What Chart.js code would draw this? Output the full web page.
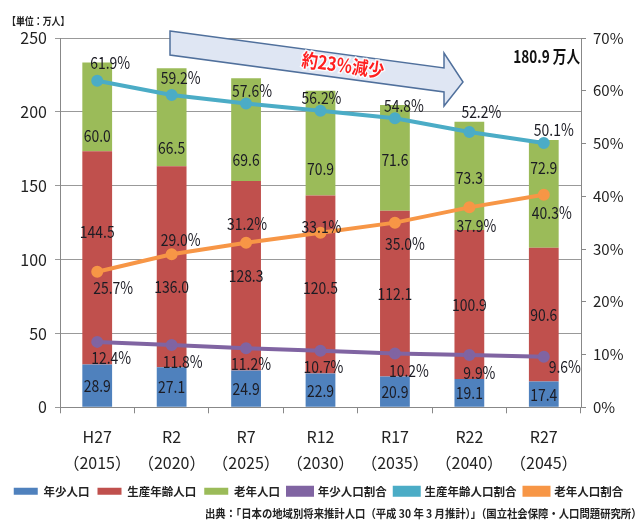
<!DOCTYPE html>
<html><head><meta charset="utf-8">
<script src="https://cdn.jsdelivr.net/npm/chart.js@4/dist/chart.umd.min.js"></script>
<style>html,body{margin:0;padding:0;background:#fff}#wrap{width:637px;height:522px;position:relative}</style>
</head><body><div id="wrap"><canvas id="c" width="637" height="522"></canvas></div>
<script>
// ---- data ----
const categories = [['H27','（2015）'],['R2','（2020）'],['R7','（2025）'],['R12','（2030）'],['R17','（2035）'],['R22','（2040）'],['R27','（2045）']];
const youngPop   = [28.9, 27.1, 24.9, 22.9, 20.9, 19.1, 17.4];
const workingPop = [144.5, 136.0, 128.3, 120.5, 112.1, 100.9, 90.6];
const elderlyPop = [60.0, 66.5, 69.6, 70.9, 71.6, 73.3, 72.9];
const youngPct   = [12.4, 11.8, 11.2, 10.7, 10.2, 9.9, 9.6];
const workingPct = [61.9, 59.2, 57.6, 56.2, 54.8, 52.2, 50.1];
const elderlyPct = [25.7, 29.0, 31.2, 33.1, 35.0, 37.9, 40.3];
const leftTicks  = [0, 50, 100, 150, 200, 250];
const rightTicks = [0, 10, 20, 30, 40, 50, 60, 70];
const seriesNames = ['年少人口','生産年齢人口','老年人口','年少人口割合','生産年齢人口割合','老年人口割合'];
const unitText = '【単位：万人】';
const totalText = '180.9 万人';
const arrowText = '約23%減少';
const sourceText = '出典：「日本の地域別将来推計人口（平成 30 年 3 月推計）」（国立社会保障・人口問題研究所）';

// label placement nudges (pixels), not data
const barLabelDy = [
  [0,0,0,0,0,0,0],
  [-26,20,0,3,0,0,0],
  [29,30,30,25,2,2,-26]
];
const lineLabelOff = [
  [[14,16],[11,17],[5,15],[3,16],[14,17],[10,17],[21,10]],
  [[13,-18],[9,-17],[6,-13],[1,-13],[9,-13],[12,-20],[10,-13]],
  [[16,16],[9,-15],[1,-19],[1,-6],[10,21],[7,18],[8,18]]
];

const FONT = "'Noto Sans CJK JP','Noto Sans',sans-serif";
Chart.defaults.font.family = FONT;
Chart.defaults.color = '#222';

const colors = ['#4F81BD','#C0504D','#9BBB59','#8064A2','#4BACC6','#F79646'];

function drawText(ctx, txt, x, y, font, color, align, sx, sy) {
  ctx.save();
  ctx.translate(x, y);
  ctx.scale(sx || 1, sy || 1);
  ctx.font = font; ctx.fillStyle = color; ctx.textAlign = align || 'center'; ctx.textBaseline = 'middle';
  ctx.fillText(txt, 0, 0);
  ctx.restore();
}

const labelPlugin = {
  id: 'valueLabels',
  afterDatasetsDraw(chart) {
    const ctx = chart.ctx;
    const f = "17px " + FONT;
    for (let d = 0; d < 3; d++) {
      const meta = chart.getDatasetMeta(d);
      const vals = chart.data.datasets[d].data;
      meta.data.forEach((el, i) => {
        const cy = (el.y + el.base) / 2 + barLabelDy[d][i];
        drawText(ctx, vals[i].toFixed(1), el.x, cy, f, '#1c1c24', 'center', 0.82, 1);
      });
    }
    for (let d = 3; d < 6; d++) {
      const meta = chart.getDatasetMeta(d);
      const vals = chart.data.datasets[d].data;
      meta.data.forEach((el, i) => {
        const o = lineLabelOff[d - 3][i];
        drawText(ctx, vals[i].toFixed(1) + '%', el.x + o[0], el.y + o[1], f, '#1c1c24', 'center', 0.82, 1);
      });
    }
  },
  afterDraw(chart) {
    const ctx = chart.ctx;
    // decorative block arrow
    ctx.save();
    ctx.beginPath();
    ctx.moveTo(170, 31); ctx.lineTo(444, 68); ctx.lineTo(444, 53); ctx.lineTo(463, 82);
    ctx.lineTo(444, 106); ctx.lineTo(444, 92); ctx.lineTo(170, 55); ctx.closePath();
    ctx.fillStyle = '#dfe6f3'; ctx.fill();
    ctx.lineWidth = 1.5; ctx.strokeStyle = '#50709c'; ctx.stroke();
    ctx.translate(343, 65); ctx.rotate(Math.atan2(37, 274)); ctx.scale(0.85, 1);
    ctx.font = "bold 19px " + FONT; ctx.textAlign = 'center'; ctx.textBaseline = 'middle';
    ctx.lineWidth = 3; ctx.strokeStyle = 'rgba(255,255,255,0.85)'; ctx.strokeText(arrowText, 0, 0);
    ctx.fillStyle = '#ff1f1f'; ctx.fillText(arrowText, 0, 0);
    ctx.restore();
    drawText(ctx, unitText, 7, 21, "bold 10.5px " + FONT, '#222', 'left', 0.85, 1);
    drawText(ctx, totalText, chart.chartArea.right - 1, 57, "bold 17px " + FONT, '#111', 'right', 0.8, 1);
    drawText(ctx, sourceText, 205, 514, "bold 11.5px " + FONT, '#222', 'left', 0.9, 1);
  }
};

const lineDs = (label, data, c) => ({
  type: 'line', label, data, yAxisID: 'y1', order: 0,
  borderColor: c, backgroundColor: c, borderWidth: 4,
  pointRadius: 4, pointBackgroundColor: c, pointBorderColor: c, tension: 0
});
const barDs = (label, data, c) => ({
  type: 'bar', label, data, yAxisID: 'y', order: 1, backgroundColor: c,
  barPercentage: 0.4, categoryPercentage: 1.0
});

new Chart(document.getElementById('c'), {
  data: {
    labels: categories,
    datasets: [
      barDs(seriesNames[0], youngPop, colors[0]),
      barDs(seriesNames[1], workingPop, colors[1]),
      barDs(seriesNames[2], elderlyPop, colors[2]),
      lineDs(seriesNames[3], youngPct, colors[3]),
      lineDs(seriesNames[4], workingPct, colors[4]),
      lineDs(seriesNames[5], elderlyPct, colors[5])
    ]
  },
  options: {
    responsive: false, animation: false,
    layout: { padding: { top: 38, bottom: 15, left: 0, right: 0 } },
    plugins: {
      tooltip: { enabled: false },
      legend: {
        position: 'bottom',
        labels: {
          boxWidth: 24, boxHeight: 7, padding: 8,
          font: { size: 11.5, weight: 'bold' }, color: '#222',
          sort: (a, b) => a.datasetIndex - b.datasetIndex
        }
      }
    },
    scales: {
      x: {
        stacked: true,
        grid: { offset: true, drawOnChartArea: false, tickLength: 6, color: '#888' },
        border: { color: '#888' },
        ticks: { font: { size: 16, lineHeight: 1.65 }, padding: 10, color: '#222', maxRotation: 0 },
        afterFit: s => { s.height = 70.2; }
      },
      y: {
        stacked: true, min: 0, max: 250,
        afterBuildTicks: s => { s.ticks = leftTicks.map(v => ({ value: v })); },
        grid: { color: '#999', tickLength: 5 },
        border: { color: '#888' },
        ticks: { font: { size: 16 }, padding: 8, color: '#222' },
        afterFit: s => { s.width = 60; }
      },
      y1: {
        position: 'right', min: 0, max: 70,
        afterBuildTicks: s => { s.ticks = rightTicks.map(v => ({ value: v })); },
        grid: { drawOnChartArea: false, tickLength: 5, color: '#888' },
        border: { color: '#888' },
        ticks: { font: { size: 15 }, padding: 7, color: '#222', callback: v => v + '%' },
        afterFit: s => { s.width = 56; }
      }
    }
  },
  plugins: [labelPlugin]
});
</script>
</body></html>
